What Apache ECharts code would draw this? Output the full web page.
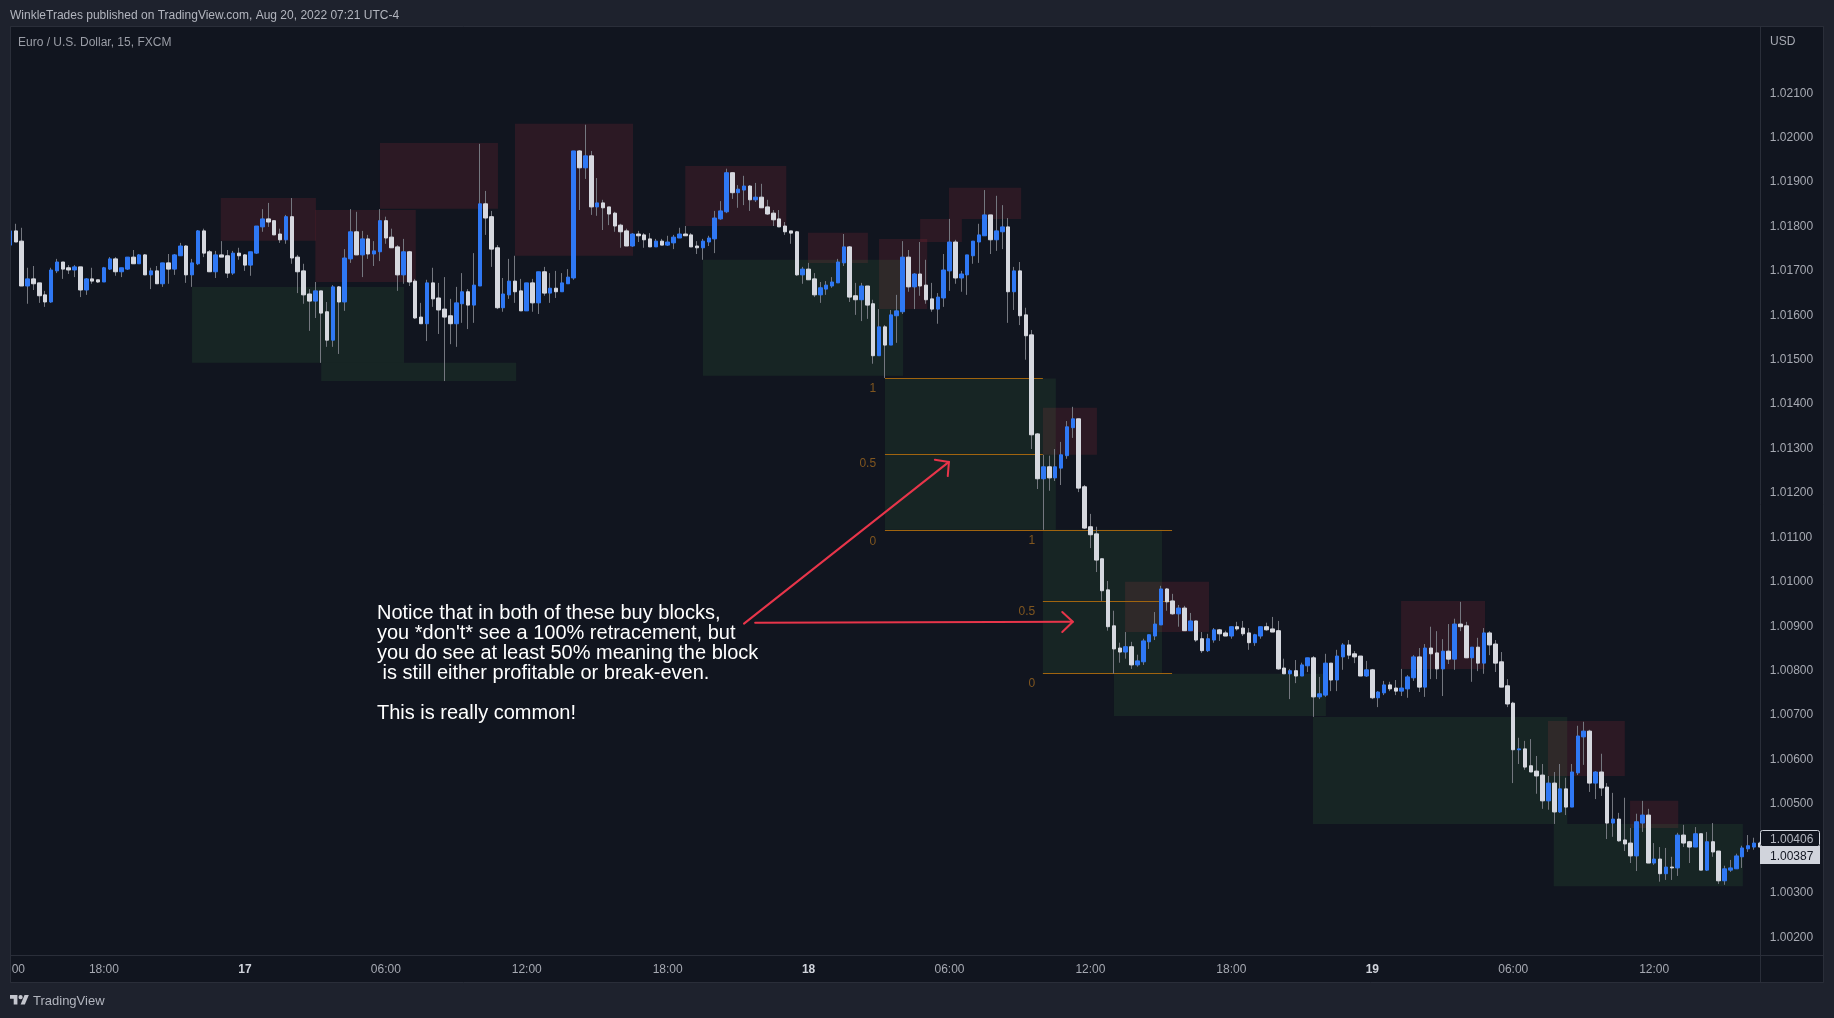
<!DOCTYPE html>
<html><head><meta charset="utf-8">
<style>html,body{margin:0;padding:0;background:#1e222d}#c{width:1834px;height:1018px}</style>
<script src="https://cdn.jsdelivr.net/npm/echarts@6/dist/echarts.min.js"></script>
</head><body><div id="c"></div>
<script>
// Each row: [open, close, low, high]
const candlesAug16 = [
[1.01758,1.01790,1.01734,1.01799],[1.01790,1.01765,1.01765,1.01806],[1.01767,1.01666,1.01666,1.01797],[1.01666,1.01682,1.01626,1.01707],
[1.01682,1.01671,1.01657,1.01711],[1.01673,1.01644,1.01628,1.01673],[1.01646,1.01630,1.01619,1.01655],[1.01630,1.01702,1.01628,1.01707],
[1.01700,1.01720,1.01695,1.01727],[1.01720,1.01704,1.01682,1.01720],[1.01707,1.01702,1.01693,1.01713],[1.01702,1.01709,1.01686,1.01713],
[1.01709,1.01657,1.01641,1.01709],[1.01657,1.01682,1.01646,1.01684],[1.01682,1.01677,1.01671,1.01707],[1.01680,1.01675,1.01673,1.01680],
[1.01675,1.01707,1.01675,1.01709],[1.01704,1.01727,1.01702,1.01731],[1.01727,1.01698,1.01689,1.01731],[1.01698,1.01707,1.01686,1.01707],
[1.01704,1.01731,1.01702,1.01731],[1.01731,1.01716,1.01716,1.01747],[1.01716,1.01736,1.01716,1.01738],[1.01736,1.01691,1.01691,1.01738],
[1.01691,1.01700,1.01659,1.01707],[1.01700,1.01671,1.01671,1.01711],[1.01671,1.01718,1.01664,1.01718],[1.01718,1.01704,1.01671,1.01738],
[1.01704,1.01736,1.01691,1.01738],[1.01734,1.01756,1.01734,1.01763],[1.01756,1.01691,1.01673,1.01758],[1.01691,1.01718,1.01664,1.01727],
[1.01716,1.01790,1.01713,1.01792],[1.01790,1.01740,1.01731,1.01795],[1.01743,1.01698,1.01698,1.01747],[1.01698,1.01736,1.01684,1.01745],
[1.01736,1.01731,1.01731,1.01767],[1.01734,1.01695,1.01684,1.01747],[1.01695,1.01740,1.01691,1.01745],[1.01740,1.01734,1.01725,1.01752]];
const candlesAug17 = [
[1.01736,1.01713,1.01700,1.01738],[1.01713,1.01743,1.01689,1.01743],[1.01740,1.01801,1.01738,1.01801],[1.01799,1.01817,1.01788,1.01839],
[1.01817,1.01810,1.01799,1.01853],[1.01813,1.01781,1.01781,1.01813],[1.01783,1.01770,1.01763,1.01795],[1.01770,1.01822,1.01761,1.01826],
[1.01822,1.01729,1.01716,1.01864],[1.01731,1.01698,1.01650,1.01736],[1.01700,1.01646,1.01626,1.01716],[1.01648,1.01632,1.01565,1.01659],
[1.01632,1.01655,1.01594,1.01675],[1.01655,1.01605,1.01493,1.01655],[1.01608,1.01544,1.01529,1.01630],[1.01544,1.01664,1.01529,1.01668],
[1.01664,1.01630,1.01513,1.01666],[1.01630,1.01729,1.01610,1.01749],[1.01727,1.01788,1.01718,1.01839],[1.01788,1.01736,1.01736,1.01833],
[1.01736,1.01772,1.01686,1.01790],[1.01772,1.01738,1.01727,1.01781],[1.01738,1.01745,1.01711,1.01767],[1.01743,1.01813,1.01722,1.01839],
[1.01813,1.01774,1.01761,1.01822],[1.01776,1.01752,1.01752,1.01795],[1.01754,1.01691,1.01655,1.01758],[1.01691,1.01743,1.01671,1.01772],
[1.01743,1.01675,1.01666,1.01745],[1.01677,1.01594,1.01592,1.01682],[1.01596,1.01581,1.01581,1.01628],[1.01581,1.01673,1.01542,1.01680],
[1.01673,1.01637,1.01619,1.01707],[1.01639,1.01612,1.01558,1.01673],[1.01614,1.01596,1.01452,1.01686],[1.01599,1.01581,1.01535,1.01637],
[1.01581,1.01628,1.01529,1.01664],[1.01626,1.01653,1.01583,1.01695],[1.01653,1.01623,1.01569,1.01659],[1.01623,1.01668,1.01583,1.01740],
[1.01666,1.01851,1.01666,1.01986],[1.01851,1.01819,1.01781,1.01880],[1.01822,1.01749,1.01709,1.01835],[1.01752,1.01617,1.01614,1.01758],
[1.01617,1.01648,1.01608,1.01684],[1.01646,1.01677,1.01637,1.01727],[1.01677,1.01653,1.01628,1.01734],[1.01655,1.01610,1.01610,1.01682],
[1.01610,1.01673,1.01610,1.01673],[1.01673,1.01628,1.01608,1.01682],[1.01628,1.01698,1.01603,1.01698],[1.01698,1.01650,1.01644,1.01709],
[1.01650,1.01661,1.01628,1.01695],[1.01661,1.01653,1.01639,1.01700],[1.01653,1.01673,1.01653,1.01695],[1.01671,1.01686,1.01671,1.01704],
[1.01684,1.01970,1.01680,1.01970],[1.01970,1.01932,1.01837,1.01972],[1.01932,1.01959,1.01907,1.02029],[1.01959,1.01844,1.01826,1.01970],
[1.01844,1.01853,1.01824,1.01909],[1.01853,1.01842,1.01792,1.01860],[1.01844,1.01828,1.01803,1.01844],[1.01830,1.01801,1.01788,1.01833],
[1.01803,1.01788,1.01752,1.01806],[1.01790,1.01756,1.01756,1.01795],[1.01756,1.01783,1.01754,1.01785],[1.01783,1.01779,1.01765,1.01790],
[1.01781,1.01770,1.01752,1.01785],[1.01772,1.01754,1.01754,1.01785],[1.01754,1.01767,1.01754,1.01772],[1.01767,1.01758,1.01758,1.01772],
[1.01758,1.01765,1.01756,1.01779],[1.01763,1.01776,1.01749,1.01781],[1.01774,1.01783,1.01774,1.01797],[1.01783,1.01779,1.01779,1.01801],
[1.01781,1.01754,1.01754,1.01785],[1.01756,1.01752,1.01738,1.01767],[1.01752,1.01767,1.01725,1.01772],[1.01765,1.01774,1.01756,1.01779],
[1.01772,1.01819,1.01740,1.01835],[1.01817,1.01835,1.01815,1.01857],[1.01833,1.01921,1.01830,1.01930],[1.01921,1.01876,1.01862,1.01921],
[1.01876,1.01884,1.01842,1.01893],[1.01882,1.01891,1.01848,1.01914],[1.01891,1.01860,1.01835,1.01893],[1.01860,1.01866,1.01855,1.01898],
[1.01866,1.01842,1.01842,1.01896],[1.01844,1.01828,1.01826,1.01860],[1.01830,1.01815,1.01801,1.01837],[1.01817,1.01799,1.01799,1.01837],
[1.01801,1.01788,1.01781,1.01810],[1.01790,1.01785,1.01761,1.01790],[1.01788,1.01691,1.01689,1.01790],[1.01691,1.01704,1.01671,1.01709]];
const candlesAug18 = [
[1.01704,1.01680,1.01680,1.01718],[1.01682,1.01646,1.01641,1.01695],[1.01646,1.01662,1.01628,1.01675],[1.01659,1.01668,1.01646,1.01677],
[1.01666,1.01675,1.01662,1.01686],[1.01673,1.01720,1.01673,1.01727],[1.01718,1.01754,1.01711,1.01783],[1.01754,1.01641,1.01630,1.01756],
[1.01644,1.01635,1.01601,1.01673],[1.01635,1.01666,1.01587,1.01673],[1.01666,1.01623,1.01592,1.01666],[1.01626,1.01509,1.01491,1.01635],
[1.01509,1.01574,1.01509,1.01614],[1.01574,1.01533,1.01459,1.01578],[1.01533,1.01601,1.01533,1.01612],[1.01599,1.01610,1.01538,1.01646],
[1.01608,1.01731,1.01603,1.01767],[1.01731,1.01664,1.01653,1.01747],[1.01664,1.01693,1.01614,1.01695],[1.01693,1.01666,1.01644,1.01765],
[1.01668,1.01635,1.01626,1.01725],[1.01637,1.01614,1.01608,1.01673],[1.01614,1.01641,1.01581,1.01650],[1.01639,1.01702,1.01619,1.01738],
[1.01700,1.01765,1.01655,1.01817],[1.01765,1.01684,1.01671,1.01770],[1.01684,1.01693,1.01653,1.01700],[1.01691,1.01736,1.01646,1.01736],
[1.01734,1.01767,1.01716,1.01767],[1.01765,1.01781,1.01718,1.01806],[1.01779,1.01826,1.01779,1.01882],[1.01826,1.01770,1.01738,1.01826],
[1.01770,1.01790,1.01745,1.01869],[1.01788,1.01799,1.01749,1.01848],[1.01799,1.01653,1.01583,1.01819],[1.01653,1.01700,1.01612,1.01709],
[1.01700,1.01599,1.01578,1.01720],[1.01601,1.01554,1.01500,1.01617],[1.01556,1.01331,1.01299,1.01567],[1.01333,1.01232,1.01209,1.01335],
[1.01232,1.01259,1.01117,1.01286],[1.01259,1.01234,1.01205,1.01284],[1.01234,1.01259,1.01227,1.01299],[1.01256,1.01286,1.01218,1.01315],
[1.01284,1.01349,1.01277,1.01362],[1.01347,1.01367,1.01324,1.01394],[1.01367,1.01211,1.01202,1.01367],[1.01214,1.01121,1.01119,1.01218],
[1.01124,1.01106,1.01076,1.01153],[1.01108,1.01049,1.01022,1.01124],[1.01052,1.00980,1.00957,1.01052],[1.00982,1.00899,1.00890,1.01002],
[1.00901,1.00849,1.00793,1.00935],[1.00851,1.00842,1.00818,1.00863],[1.00842,1.00854,1.00827,1.00887],[1.00854,1.00813,1.00804,1.00865],
[1.00813,1.00822,1.00809,1.00836],[1.00820,1.00867,1.00813,1.00872],[1.00865,1.00881,1.00849,1.00881],[1.00878,1.00905,1.00869,1.00932],
[1.00903,1.00984,1.00903,1.00991],[1.00984,1.00955,1.00935,1.00986],[1.00957,1.00928,1.00926,1.00973],[1.00928,1.00941,1.00899,1.00948],
[1.00941,1.00890,1.00890,1.00946],[1.00890,1.00912,1.00890,1.00930],[1.00912,1.00869,1.00865,1.00912],[1.00872,1.00845,1.00840,1.00887],
[1.00845,1.00872,1.00842,1.00883],[1.00869,1.00892,1.00863,1.00896],[1.00892,1.00883,1.00867,1.00894],[1.00885,1.00878,1.00878,1.00890],
[1.00878,1.00899,1.00872,1.00899],[1.00899,1.00894,1.00890,1.00910],[1.00896,1.00883,1.00878,1.00912],[1.00885,1.00863,1.00847,1.00896],
[1.00863,1.00881,1.00856,1.00883],[1.00878,1.00899,1.00872,1.00899],[1.00899,1.00892,1.00890,1.00908],[1.00894,1.00887,1.00887,1.00921],
[1.00890,1.00804,1.00802,1.00912],[1.00806,1.00793,1.00793,1.00827],[1.00793,1.00800,1.00736,1.00804],[1.00800,1.00788,1.00772,1.00824],
[1.00788,1.00813,1.00788,1.00818],[1.00811,1.00829,1.00797,1.00829],[1.00829,1.00741,1.00696,1.00833],[1.00741,1.00748,1.00736,1.00786],
[1.00745,1.00817,1.00741,1.00838],[1.00817,1.00779,1.00754,1.00817],[1.00779,1.00833,1.00754,1.00847],[1.00831,1.00858,1.00802,1.00862],
[1.00858,1.00835,1.00826,1.00869],[1.00838,1.00831,1.00817,1.00844],[1.00833,1.00788,1.00788,1.00833],[1.00788,1.00802,1.00786,1.00822]];
const candlesAug19 = [
[1.00802,1.00739,1.00736,1.00804],[1.00739,1.00752,1.00718,1.00754],[1.00750,1.00768,1.00745,1.00777],[1.00768,1.00759,1.00754,1.00775],
[1.00761,1.00754,1.00745,1.00779],[1.00754,1.00761,1.00743,1.00804],[1.00759,1.00786,1.00739,1.00790],[1.00784,1.00831,1.00777,1.00835],
[1.00831,1.00763,1.00752,1.00851],[1.00763,1.00851,1.00741,1.00860],[1.00851,1.00838,1.00781,1.00899],[1.00840,1.00804,1.00781,1.00889],
[1.00804,1.00844,1.00743,1.00871],[1.00844,1.00826,1.00815,1.00905],[1.00826,1.00905,1.00802,1.00917],[1.00905,1.00899,1.00889,1.00955],
[1.00901,1.00829,1.00829,1.00910],[1.00829,1.00853,1.00775,1.00853],[1.00853,1.00817,1.00799,1.00874],[1.00817,1.00885,1.00793,1.00896],
[1.00885,1.00858,1.00835,1.00889],[1.00860,1.00817,1.00797,1.00869],[1.00820,1.00763,1.00763,1.00842],[1.00766,1.00725,1.00718,1.00781],
[1.00727,1.00622,1.00547,1.00730],[1.00622,1.00624,1.00590,1.00649],[1.00624,1.00583,1.00577,1.00642],[1.00586,1.00572,1.00572,1.00646],
[1.00574,1.00563,1.00523,1.00608],[1.00565,1.00507,1.00489,1.00590],[1.00507,1.00547,1.00487,1.00563],[1.00547,1.00482,1.00455,1.00572],
[1.00482,1.00534,1.00480,1.00590],[1.00534,1.00493,1.00475,1.00559],[1.00493,1.00572,1.00493,1.00590],[1.00570,1.00653,1.00565,1.00676],
[1.00651,1.00664,1.00588,1.00685],[1.00664,1.00547,1.00527,1.00667],[1.00547,1.00572,1.00511,1.00574],[1.00572,1.00536,1.00518,1.00613],
[1.00538,1.00457,1.00421,1.00547],[1.00457,1.00466,1.00426,1.00525],[1.00466,1.00417,1.00415,1.00480],[1.00419,1.00410,1.00394,1.00514],
[1.00412,1.00383,1.00367,1.00446],[1.00383,1.00460,1.00349,1.00478],[1.00457,1.00475,1.00437,1.00507],[1.00475,1.00367,1.00367,1.00489],
[1.00367,1.00376,1.00363,1.00412],[1.00376,1.00343,1.00325,1.00403],[1.00343,1.00358,1.00329,1.00401],[1.00358,1.00356,1.00329,1.00381],
[1.00356,1.00430,1.00338,1.00435],[1.00430,1.00412,1.00403,1.00453],[1.00415,1.00403,1.00367,1.00417],[1.00403,1.00433,1.00403,1.00448],
[1.00433,1.00351,1.00351,1.00433],[1.00351,1.00415,1.00349,1.00437],[1.00415,1.00392,1.00381,1.00457],[1.00394,1.00327,1.00320,1.00394],
[1.00327,1.00354,1.00318,1.00361],[1.00351,1.00356,1.00347,1.00374],[1.00354,1.00383,1.00354,1.00388],[1.00381,1.00401,1.00356,1.00406],
[1.00399,1.00406,1.00392,1.00430],[1.00403,1.00412,1.00397,1.00424],[1.00412,1.00403,1.00403,1.00415]];

// Bar-index / price extents of the drawn zones: [fromBar, toBar, topPrice, bottomPrice]
const sellBlocks = [
[35.9,52.1,1.01864,1.01768],[52.0,69.1,1.01837,1.01675],[63.0,83.1,1.01988,1.01840],[86.0,106.1,1.02031,1.01734],
[115.0,132.2,1.01936,1.01801],[135.9,146.1,1.01786,1.01718],[148.0,156.2,1.01772,1.01614],[155.0,162.1,1.01817,1.01765],
[159.9,172.2,1.01887,1.01817],[175.9,185.1,1.01392,1.01286],[189.9,204.2,1.01000,1.00887],[236.9,251.2,1.00957,1.00804],
[261.9,275.0,1.00687,1.00563],[275.9,284.1,1.00507,1.00446]];
const buyBlocks = [
[31.0,67.1,1.01664,1.01493],[53.0,86.2,1.01493,1.01452],
[118.0,152.1,1.01725,1.01464],[149.0,178.1,1.01458,1.01117],[175.9,196.2,1.01117,1.00795],[188.0,224.1,1.00793,1.00698],
[221.9,265.2,1.00696,1.00455],[262.9,295.1,1.00455,1.00315]];
// Retracement levels: [fromBar, toBar, price]
const fibLevels = [
[149.0,175.9,1.01458],[149.0,175.9,1.01287],[149.0,197.9,1.01117],[175.9,197.9,1.00957],[175.9,197.9,1.00795]];
const fibLabels = [
[147.5,1.01434,'1'],[147.5,1.01266,'0.5'],[147.5,1.01091,'0'],[174.6,1.01093,'1'],[174.6,1.00932,'0.5'],[174.6,1.00770,'0']];
const arrowUpShaft = [[125.0,1.00906],[159.9,1.01270]];
const arrowUpHead = [[157.5,1.01275],[159.9,1.01270],[159.7,1.01238]];
const arrowFlatShaft = [[126.9,1.00908],[181.0,1.00910]];
const arrowFlatHead = [[179.2,1.00932],[181.0,1.00910],[179.2,1.00887]];

const priceTicks = [1.002,1.003,1.004,1.005,1.006,1.007,1.008,1.009,1.010,1.011,1.012,1.013,1.014,1.015,1.016,1.017,1.018,1.019,1.020,1.021,1.022];
const noteText = "Notice that in both of these buy blocks,\nyou *don't* see a 100% retracement, but\nyou do see at least 50% meaning the block\n is still either profitable or break-even.\n\nThis is really common!";
const headerText = "WinkleTrades published on TradingView.com, Aug 20, 2022 07:21 UTC-4";
const symbolText = "Euro / U.S. Dollar, 15, FXCM";
const lastPrices = ["1.00406","1.00387"];

const candles = candlesAug16.concat(candlesAug17, candlesAug18, candlesAug19);
const bodies = candles.map(r => [r[0], r[1], Math.min(r[0], r[1]), Math.max(r[0], r[1])]);
const pad = n => String(n).padStart(2, '0');
const categories = candles.map((_, i) => {
  const m = 14 * 60 + i * 15, d = 16 + Math.floor(m / 1440), mm = m % 1440;
  return d + ' ' + pad(Math.floor(mm / 60)) + ':' + pad(mm % 60);
});

const FONT = '"Liberation Sans", Arial, sans-serif';
const FRAME = '#1e222d', PANEL = '#11151f', EDGE = '#2a2e39', TXT = '#a6a9b2';
const UP = '#2f78f4', DOWN = '#d6d8df', WICK = '#74777f';

function rectItem(params, api) {
  const a = api.coord([api.value(0), api.value(2)]), b = api.coord([api.value(1), api.value(3)]);
  return {type:'rect', shape:{x:a[0], y:a[1], width:b[0]-a[0], height:b[1]-a[1]}, style:{fill:api.visual('color')}};
}
const chart = echarts.init(document.getElementById('c'), null, {width:1834, height:1018, renderer:'canvas'});
const boxR = (x,y,w,h,fill,z) => ({type:'rect', z, silent:true, shape:{x,y,width:w,height:h}, style:{fill}});
const txt = (x,y,text,fill,font,z) => ({type:'text', z, silent:true, style:{x,y,text,fill,font,textVerticalAlign:'middle'}});
const seg = (x1,y1,x2,y2,z) => ({type:'line', z, silent:true, shape:{x1,y1,x2,y2}, style:{stroke:EDGE, lineWidth:1}});
const poly = (name,data) => ({type:'line', name, xAxisIndex:1, yAxisIndex:0, data, showSymbol:false, symbol:'none', z:8, silent:true, clip:false,
  lineStyle:{color:'#e8354a', width:2, cap:'round', join:'round'}});
const LOGO = {x:10, y:992.9, k:0.53};
const lp = (pts) => pts.map(p => [LOGO.x + p[0]*LOGO.k, LOGO.y + p[1]*LOGO.k]);

chart.setOption({
  animation:false,
  backgroundColor:PANEL,
  textStyle:{fontFamily:FONT},
  grid:{left:7.06, top:27, width:1755.73, height:928, containLabel:false, outerBoundsMode:'none'},
  xAxis:[{
    type:'category', data:categories, z:50, boundaryGap:true,
    axisLine:{show:false}, axisTick:{show:false}, splitLine:{show:false},
    axisLabel:{
      margin:9, fontSize:12, color:TXT, fontFamily:FONT, hideOverlap:false,
      interval:(i)=> i===0 || (i>=16 && (i-16)%24===0),
      formatter:(v)=>{ const p=v.split(' '); return p[1]==='00:00' ? '{d|'+p[0]+'}' : p[1]; },
      rich:{d:{fontWeight:'bold', fontSize:12, color:'#d1d4dc', fontFamily:FONT}}
    }
  },{
    type:'value', show:false, min:-0.5, max:298.5, position:'top'
  }],
  yAxis:{
    type:'value', position:'right', min:1.0016, max:1.02249, z:110,
    axisLine:{show:false}, axisTick:{show:false}, splitLine:{show:false},
    axisLabel:{margin:7, fontSize:12, color:TXT, fontFamily:FONT, customValues:priceTicks, align:'left', padding:[3,0,0,0], formatter:(v)=>v.toFixed(5)}
  },
  series:[
    {type:'custom', name:'Sell blocks', xAxisIndex:1, yAxisIndex:0, z:1, silent:true, clip:false, renderItem:rectItem, encode:{x:[0,1],y:[2,3]},
      itemStyle:{color:'rgba(242,54,69,0.125)'}, data:sellBlocks},
    {type:'custom', name:'Buy blocks', xAxisIndex:1, yAxisIndex:0, z:1, silent:true, clip:false, renderItem:rectItem, encode:{x:[0,1],y:[2,3]},
      itemStyle:{color:'rgba(76,175,80,0.11)'}, data:buyBlocks},
    {type:'custom', name:'Fib levels', xAxisIndex:1, yAxisIndex:0, z:2, silent:true, clip:false, encode:{x:[0,1],y:2},
      renderItem:(p,api)=>{
        const a=api.coord([api.value(0),api.value(2)]), b=api.coord([api.value(1),api.value(2)]), y=Math.round(a[1])+0.5;
        return {type:'line', shape:{x1:a[0],y1:y,x2:b[0],y2:y}, style:{stroke:'#a0640f', lineWidth:1}};
      }, data:fibLevels},
    {type:'custom', name:'Fib labels', xAxisIndex:1, yAxisIndex:0, z:2, silent:true, clip:false, encode:{x:0,y:1},
      renderItem:(p,api)=>{
        const a=api.coord([api.value(0),api.value(1)]);
        return {type:'text', style:{x:a[0], y:a[1], text:fibLabels[p.dataIndex][2], fill:'#80561f', font:'12px '+FONT, textAlign:'right', textVerticalAlign:'middle'}};
      }, data:fibLabels.map(r=>[r[0],r[1]])},
    {type:'candlestick', name:'EURUSD wicks', xAxisIndex:0, yAxisIndex:0, z:3, silent:true, barWidth:1, data:candles,
      itemStyle:{color:WICK, color0:WICK, borderColor:WICK, borderColor0:WICK, borderWidth:1}},
    {type:'candlestick', name:'EURUSD', xAxisIndex:0, yAxisIndex:0, z:4, silent:true, barWidth:4, data:bodies,
      itemStyle:{color:UP, color0:DOWN, borderColor:UP, borderColor0:DOWN, borderWidth:1}},
    poly('Arrow up', arrowUpShaft), poly('Arrow up head', arrowUpHead),
    poly('Arrow flat', arrowFlatShaft), poly('Arrow flat head', arrowFlatHead)
  ],
  graphic:{elements:[
    {type:'text', z:60, silent:true, style:{x:377, y:603, text:noteText, fill:'#ffffff', font:'20px '+FONT, lineHeight:20, textVerticalAlign:'top'}},
    boxR(0,0,11,1018,FRAME,100), boxR(0,0,1834,27,FRAME,100), boxR(0,983,1834,35,FRAME,100), boxR(1823,0,11,1018,FRAME,100),
    boxR(1761,27,62,928,PANEL,100),
    seg(10.5,26.5,1823.5,26.5,101), seg(10.5,26.5,10.5,982.5,101), seg(10.5,982.5,1823.5,982.5,101), seg(1823.5,26.5,1823.5,982.5,101),
    seg(1760.5,27,1760.5,982,101), seg(11,955.5,1823,955.5,101),
    boxR(1761,27,62,25,PANEL,120),
    txt(1770,42,'USD','#a6a9b2','12px '+FONT,121),
    txt(10,16,headerText,'#b2b5be','12px '+FONT,121),
    txt(18,42.5,symbolText,'#9a9da6','12px '+FONT,121),
    txt(33,1001,'TradingView','#b2b5be','13px '+FONT,121),
    {type:'polygon', z:121, silent:true, shape:{points:lp([[14,22],[7,22],[7,11],[0,11],[0,4],[14,4]])}, style:{fill:'#c4c6ce'}},
    {type:'polygon', z:121, silent:true, shape:{points:lp([[28,22],[20,22],[27.5,4],[35.5,4]])}, style:{fill:'#c4c6ce'}},
    {type:'circle', z:121, silent:true, shape:{cx:LOGO.x+20*LOGO.k, cy:LOGO.y+8*LOGO.k, r:4*LOGO.k}, style:{fill:'#c4c6ce'}},
    {type:'rect', z:120, silent:true, shape:{x:1760.5,y:830.5,width:59,height:16,r:2}, style:{fill:PANEL, stroke:'#d1d4dc', lineWidth:1}},
    boxR(1760,846,60,18,'#d1d4dc',121),
    txt(1770,840,lastPrices[0],'#b2b5be','12px '+FONT,122),
    txt(1770,857,lastPrices[1],'#131722','12px '+FONT,122)
  ]}
});
</script></body></html>
